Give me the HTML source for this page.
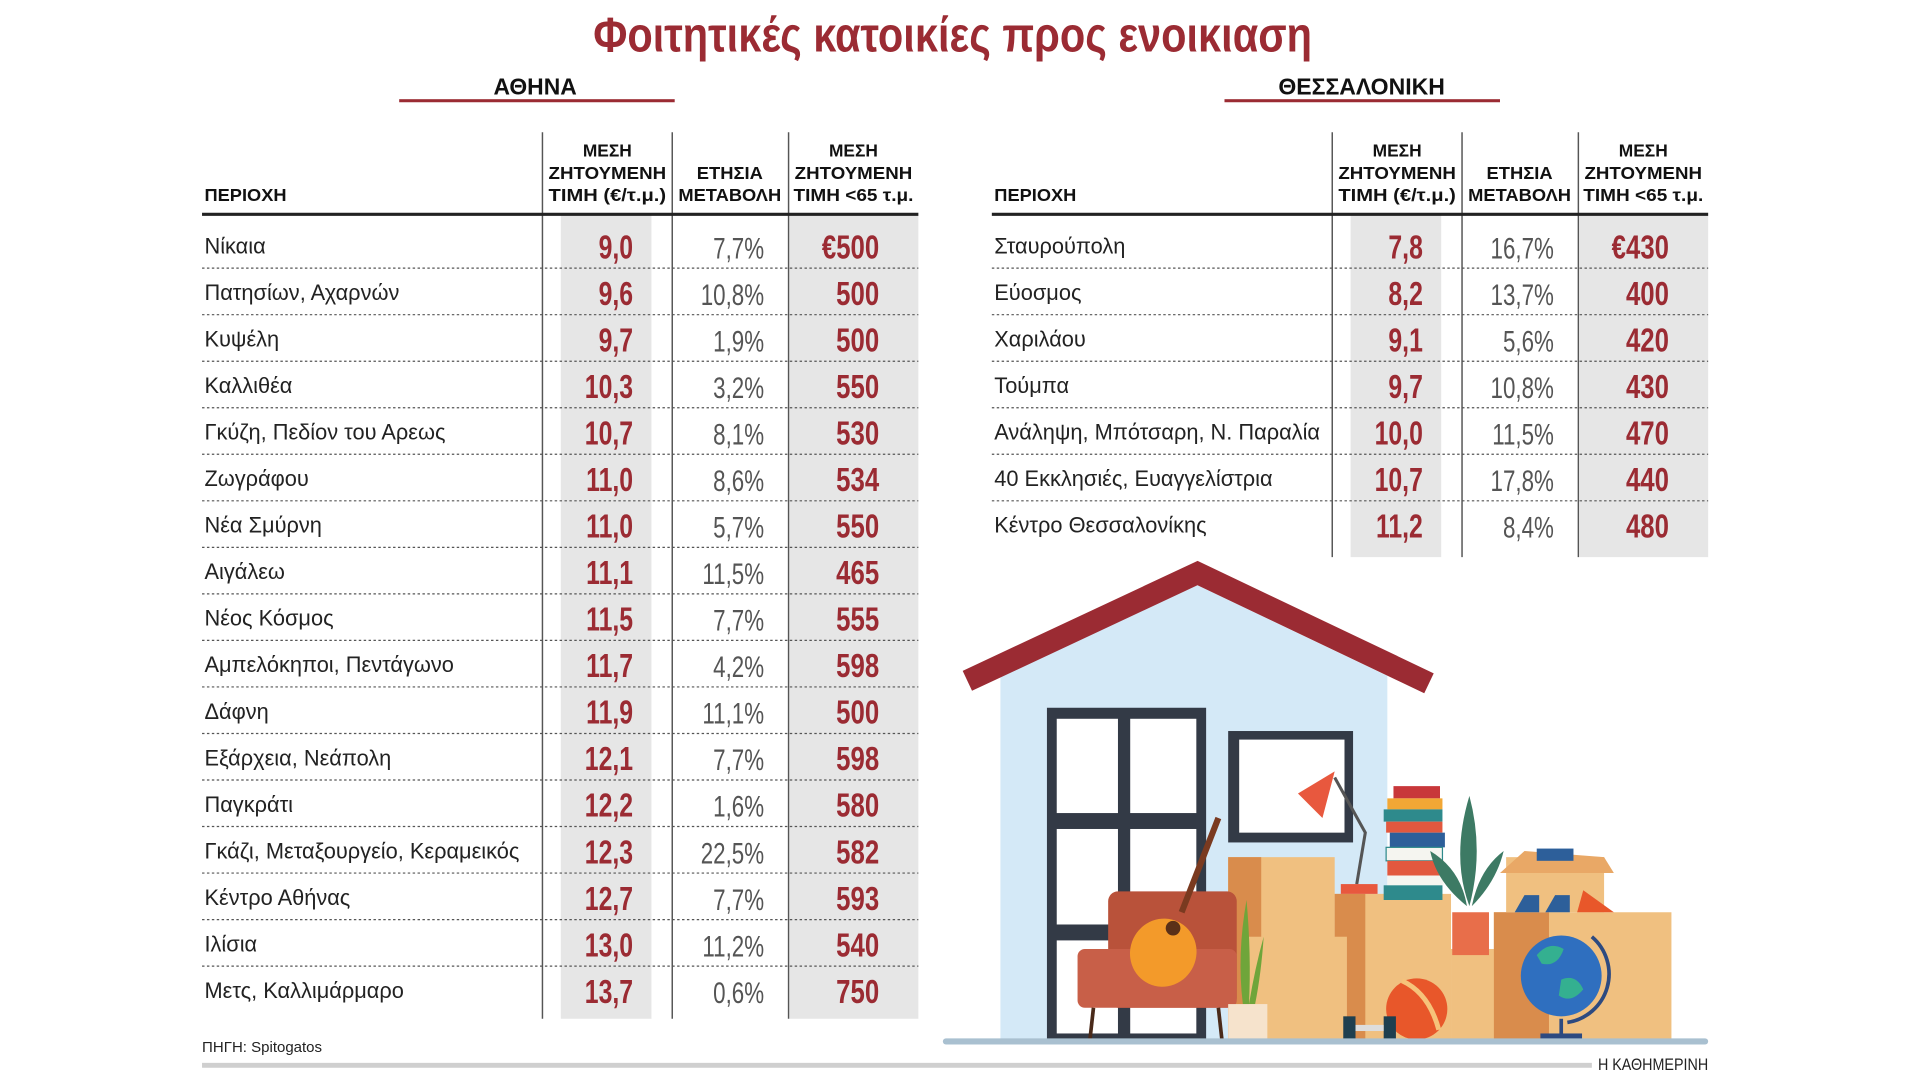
<!DOCTYPE html>
<html><head><meta charset="utf-8"><style>
html,body{margin:0;padding:0;background:#fff;}
svg{display:block;}
text{font-family:"Liberation Sans","DejaVu Sans",sans-serif;}
.nm{font-size:17.8px;fill:#222;}
.rd{font-size:27px;font-weight:bold;fill:#9b2b33;}
.pc{font-size:24px;fill:#555;}
.hd{font-size:14.5px;font-weight:bold;fill:#111;}
</style></head><body>
<svg width="1920" height="1080" viewBox="0 0 1568 882" preserveAspectRatio="none" xmlns="http://www.w3.org/2000/svg">
<text x="778" y="42" text-anchor="middle" font-size="40" font-weight="bold" fill="#9b2b33" textLength="587" lengthAdjust="spacingAndGlyphs">Φοιτητικές κατοικίες προς ενοικιαση</text>
<text x="437" y="77" text-anchor="middle" font-size="19" font-weight="bold" fill="#111" textLength="68" lengthAdjust="spacingAndGlyphs">ΑΘΗΝΑ</text>
<rect x="326" y="81" width="225" height="2.5" fill="#9b2b33"/>
<text x="1112" y="77" text-anchor="middle" font-size="19" font-weight="bold" fill="#111" textLength="136" lengthAdjust="spacingAndGlyphs">ΘΕΣΣΑΛΟΝΙΚΗ</text>
<rect x="1000" y="81" width="225" height="2.5" fill="#9b2b33"/>

<!-- LEFT TABLE -->
<rect x="458" y="176" width="74" height="656" fill="#e6e6e6"/>
<rect x="645" y="176" width="105" height="656" fill="#e6e6e6"/>
<g stroke="#555" stroke-width="1.2"><line x1="443" y1="108" x2="443" y2="832"/><line x1="549" y1="108" x2="549" y2="832"/><line x1="644" y1="108" x2="644" y2="832"/></g>
<line x1="165" y1="175" x2="750" y2="175" stroke="#222" stroke-width="2.5"/>
<g stroke="#555" stroke-width="1" stroke-dasharray="2,2">
<line x1="165" y1="219" x2="750" y2="219"/><line x1="165" y1="257" x2="750" y2="257"/><line x1="165" y1="295" x2="750" y2="295"/><line x1="165" y1="333" x2="750" y2="333"/><line x1="165" y1="371" x2="750" y2="371"/><line x1="165" y1="409" x2="750" y2="409"/><line x1="165" y1="447" x2="750" y2="447"/><line x1="165" y1="485" x2="750" y2="485"/><line x1="165" y1="523" x2="750" y2="523"/><line x1="165" y1="561" x2="750" y2="561"/><line x1="165" y1="599" x2="750" y2="599"/><line x1="165" y1="637" x2="750" y2="637"/><line x1="165" y1="675" x2="750" y2="675"/><line x1="165" y1="713" x2="750" y2="713"/><line x1="165" y1="751" x2="750" y2="751"/><line x1="165" y1="789" x2="750" y2="789"/>
</g>
<g text-anchor="middle">
<text class="hd" x="167" y="164" text-anchor="start" textLength="67" lengthAdjust="spacingAndGlyphs">ΠΕΡΙΟΧΗ</text>
<text class="hd" x="496" y="128" textLength="40" lengthAdjust="spacingAndGlyphs">ΜΕΣΗ</text>
<text class="hd" x="496" y="146" textLength="96" lengthAdjust="spacingAndGlyphs">ΖΗΤΟΥΜΕΝΗ</text>
<text class="hd" x="496" y="164" textLength="96" lengthAdjust="spacingAndGlyphs">ΤΙΜΗ (€/τ.μ.)</text>
<text class="hd" x="596" y="146" textLength="54" lengthAdjust="spacingAndGlyphs">ΕΤΗΣΙΑ</text>
<text class="hd" x="596" y="164" textLength="84" lengthAdjust="spacingAndGlyphs">ΜΕΤΑΒΟΛΗ</text>
<text class="hd" x="697" y="128" textLength="40" lengthAdjust="spacingAndGlyphs">ΜΕΣΗ</text>
<text class="hd" x="697" y="146" textLength="96" lengthAdjust="spacingAndGlyphs">ΖΗΤΟΥΜΕΝΗ</text>
<text class="hd" x="697" y="164" textLength="98" lengthAdjust="spacingAndGlyphs">ΤΙΜΗ &lt;65 τ.μ.</text>
</g>

<g>
<text class="nm" x="167" y="207">Νίκαια</text>
<text class="nm" x="167" y="245">Πατησίων, Αχαρνών</text>
<text class="nm" x="167" y="283">Κυψέλη</text>
<text class="nm" x="167" y="321">Καλλιθέα</text>
<text class="nm" x="167" y="359">Γκύζη, Πεδίον του Αρεως</text>
<text class="nm" x="167" y="397">Ζωγράφου</text>
<text class="nm" x="167" y="435">Νέα Σμύρνη</text>
<text class="nm" x="167" y="473">Αιγάλεω</text>
<text class="nm" x="167" y="511">Νέος Κόσμος</text>
<text class="nm" x="167" y="549">Αμπελόκηποι, Πεντάγωνο</text>
<text class="nm" x="167" y="587">Δάφνη</text>
<text class="nm" x="167" y="625">Εξάρχεια, Νεάπολη</text>
<text class="nm" x="167" y="663">Παγκράτι</text>
<text class="nm" x="167" y="701">Γκάζι, Μεταξουργείο, Κεραμεικός</text>
<text class="nm" x="167" y="739">Κέντρο Αθήνας</text>
<text class="nm" x="167" y="777">Ιλίσια</text>
<text class="nm" x="167" y="815">Μετς, Καλλιμάρμαρο</text>
</g>
<g text-anchor="end">
<text class="rd" transform="translate(517,211) scale(0.75,1)">9,0</text>
<text class="rd" transform="translate(517,249) scale(0.75,1)">9,6</text>
<text class="rd" transform="translate(517,287) scale(0.75,1)">9,7</text>
<text class="rd" transform="translate(517,325) scale(0.75,1)">10,3</text>
<text class="rd" transform="translate(517,363) scale(0.75,1)">10,7</text>
<text class="rd" transform="translate(517,401) scale(0.75,1)">11,0</text>
<text class="rd" transform="translate(517,439) scale(0.75,1)">11,0</text>
<text class="rd" transform="translate(517,477) scale(0.75,1)">11,1</text>
<text class="rd" transform="translate(517,515) scale(0.75,1)">11,5</text>
<text class="rd" transform="translate(517,553) scale(0.75,1)">11,7</text>
<text class="rd" transform="translate(517,591) scale(0.75,1)">11,9</text>
<text class="rd" transform="translate(517,629) scale(0.75,1)">12,1</text>
<text class="rd" transform="translate(517,667) scale(0.75,1)">12,2</text>
<text class="rd" transform="translate(517,705) scale(0.75,1)">12,3</text>
<text class="rd" transform="translate(517,743) scale(0.75,1)">12,7</text>
<text class="rd" transform="translate(517,781) scale(0.75,1)">13,0</text>
<text class="rd" transform="translate(517,819) scale(0.75,1)">13,7</text>

<text class="pc" transform="translate(624,211) scale(0.76,1)">7,7%</text>
<text class="pc" transform="translate(624,249) scale(0.76,1)">10,8%</text>
<text class="pc" transform="translate(624,287) scale(0.76,1)">1,9%</text>
<text class="pc" transform="translate(624,325) scale(0.76,1)">3,2%</text>
<text class="pc" transform="translate(624,363) scale(0.76,1)">8,1%</text>
<text class="pc" transform="translate(624,401) scale(0.76,1)">8,6%</text>
<text class="pc" transform="translate(624,439) scale(0.76,1)">5,7%</text>
<text class="pc" transform="translate(624,477) scale(0.76,1)">11,5%</text>
<text class="pc" transform="translate(624,515) scale(0.76,1)">7,7%</text>
<text class="pc" transform="translate(624,553) scale(0.76,1)">4,2%</text>
<text class="pc" transform="translate(624,591) scale(0.76,1)">11,1%</text>
<text class="pc" transform="translate(624,629) scale(0.76,1)">7,7%</text>
<text class="pc" transform="translate(624,667) scale(0.76,1)">1,6%</text>
<text class="pc" transform="translate(624,705) scale(0.76,1)">22,5%</text>
<text class="pc" transform="translate(624,743) scale(0.76,1)">7,7%</text>
<text class="pc" transform="translate(624,781) scale(0.76,1)">11,2%</text>
<text class="pc" transform="translate(624,819) scale(0.76,1)">0,6%</text>

<text class="rd" transform="translate(718,211) scale(0.78,1)">€500</text>
<text class="rd" transform="translate(718,249) scale(0.78,1)">500</text>
<text class="rd" transform="translate(718,287) scale(0.78,1)">500</text>
<text class="rd" transform="translate(718,325) scale(0.78,1)">550</text>
<text class="rd" transform="translate(718,363) scale(0.78,1)">530</text>
<text class="rd" transform="translate(718,401) scale(0.78,1)">534</text>
<text class="rd" transform="translate(718,439) scale(0.78,1)">550</text>
<text class="rd" transform="translate(718,477) scale(0.78,1)">465</text>
<text class="rd" transform="translate(718,515) scale(0.78,1)">555</text>
<text class="rd" transform="translate(718,553) scale(0.78,1)">598</text>
<text class="rd" transform="translate(718,591) scale(0.78,1)">500</text>
<text class="rd" transform="translate(718,629) scale(0.78,1)">598</text>
<text class="rd" transform="translate(718,667) scale(0.78,1)">580</text>
<text class="rd" transform="translate(718,705) scale(0.78,1)">582</text>
<text class="rd" transform="translate(718,743) scale(0.78,1)">593</text>
<text class="rd" transform="translate(718,781) scale(0.78,1)">540</text>
<text class="rd" transform="translate(718,819) scale(0.78,1)">750</text>
</g>

<!-- RIGHT TABLE -->
<rect x="1103" y="176" width="74" height="279" fill="#e6e6e6"/>
<rect x="1290" y="176" width="105" height="279" fill="#e6e6e6"/>
<g stroke="#555" stroke-width="1.2"><line x1="1088" y1="108" x2="1088" y2="455"/><line x1="1194" y1="108" x2="1194" y2="455"/><line x1="1289" y1="108" x2="1289" y2="455"/></g>
<line x1="810" y1="175" x2="1395" y2="175" stroke="#222" stroke-width="2.5"/>
<g stroke="#555" stroke-width="1" stroke-dasharray="2,2">
<line x1="810" y1="219" x2="1395" y2="219"/><line x1="810" y1="257" x2="1395" y2="257"/><line x1="810" y1="295" x2="1395" y2="295"/><line x1="810" y1="333" x2="1395" y2="333"/><line x1="810" y1="371" x2="1395" y2="371"/><line x1="810" y1="409" x2="1395" y2="409"/>
</g>
<g text-anchor="middle">
<text class="hd" x="812" y="164" text-anchor="start" textLength="67" lengthAdjust="spacingAndGlyphs">ΠΕΡΙΟΧΗ</text>
<text class="hd" x="1141" y="128" textLength="40" lengthAdjust="spacingAndGlyphs">ΜΕΣΗ</text>
<text class="hd" x="1141" y="146" textLength="96" lengthAdjust="spacingAndGlyphs">ΖΗΤΟΥΜΕΝΗ</text>
<text class="hd" x="1141" y="164" textLength="96" lengthAdjust="spacingAndGlyphs">ΤΙΜΗ (€/τ.μ.)</text>
<text class="hd" x="1241" y="146" textLength="54" lengthAdjust="spacingAndGlyphs">ΕΤΗΣΙΑ</text>
<text class="hd" x="1241" y="164" textLength="84" lengthAdjust="spacingAndGlyphs">ΜΕΤΑΒΟΛΗ</text>
<text class="hd" x="1342" y="128" textLength="40" lengthAdjust="spacingAndGlyphs">ΜΕΣΗ</text>
<text class="hd" x="1342" y="146" textLength="96" lengthAdjust="spacingAndGlyphs">ΖΗΤΟΥΜΕΝΗ</text>
<text class="hd" x="1342" y="164" textLength="98" lengthAdjust="spacingAndGlyphs">ΤΙΜΗ &lt;65 τ.μ.</text>
</g>
<text class="nm" x="812" y="207">Σταυρούπολη</text>
<text class="nm" x="812" y="245">Εύοσμος</text>
<text class="nm" x="812" y="283">Χαριλάου</text>
<text class="nm" x="812" y="321">Τούμπα</text>
<text class="nm" x="812" y="359">Ανάληψη, Μπότσαρη, Ν. Παραλία</text>
<text class="nm" x="812" y="397">40 Εκκλησιές, Ευαγγελίστρια</text>
<text class="nm" x="812" y="435">Κέντρο Θεσσαλονίκης</text>
<g text-anchor="end">
<text class="rd" transform="translate(1162,211) scale(0.75,1)">7,8</text>
<text class="rd" transform="translate(1162,249) scale(0.75,1)">8,2</text>
<text class="rd" transform="translate(1162,287) scale(0.75,1)">9,1</text>
<text class="rd" transform="translate(1162,325) scale(0.75,1)">9,7</text>
<text class="rd" transform="translate(1162,363) scale(0.75,1)">10,0</text>
<text class="rd" transform="translate(1162,401) scale(0.75,1)">10,7</text>
<text class="rd" transform="translate(1162,439) scale(0.75,1)">11,2</text>
<text class="pc" transform="translate(1269,211) scale(0.76,1)">16,7%</text>
<text class="pc" transform="translate(1269,249) scale(0.76,1)">13,7%</text>
<text class="pc" transform="translate(1269,287) scale(0.76,1)">5,6%</text>
<text class="pc" transform="translate(1269,325) scale(0.76,1)">10,8%</text>
<text class="pc" transform="translate(1269,363) scale(0.76,1)">11,5%</text>
<text class="pc" transform="translate(1269,401) scale(0.76,1)">17,8%</text>
<text class="pc" transform="translate(1269,439) scale(0.76,1)">8,4%</text>
<text class="rd" transform="translate(1363,211) scale(0.78,1)">€430</text>
<text class="rd" transform="translate(1363,249) scale(0.78,1)">400</text>
<text class="rd" transform="translate(1363,287) scale(0.78,1)">420</text>
<text class="rd" transform="translate(1363,325) scale(0.78,1)">430</text>
<text class="rd" transform="translate(1363,363) scale(0.78,1)">470</text>
<text class="rd" transform="translate(1363,401) scale(0.78,1)">440</text>
<text class="rd" transform="translate(1363,439) scale(0.78,1)">480</text>
</g>

<!-- ILLUSTRATION -->
<polygon points="817,540 978,478 1133,552 1133,850 817,850" fill="#d4e9f7"/>
<polyline points="790,556 978,468 1167,558" fill="none" stroke="#9b2b33" stroke-width="18"/>
<rect x="855" y="578" width="130" height="272" fill="#333a46"/>
<g fill="#fff">
<rect x="863" y="587" width="50" height="77"/><rect x="923" y="587" width="54" height="77"/>
<rect x="863" y="677" width="50" height="78"/><rect x="923" y="677" width="54" height="78"/>
<rect x="863" y="768" width="50" height="76"/><rect x="923" y="768" width="54" height="76"/>
</g>
<rect x="1003" y="597" width="102" height="91" fill="#333a46"/>
<rect x="1012" y="604" width="86" height="76" fill="#fff"/>
<rect x="1003" y="700" width="87" height="150" fill="#f0c080"/>
<rect x="1003" y="700" width="27" height="150" fill="#d98c4c"/>
<rect x="1090" y="730" width="95" height="120" fill="#f0c080"/>
<rect x="1090" y="730" width="25" height="120" fill="#d98c4c"/>
<rect x="1020" y="765" width="80" height="85" fill="#f0c080"/>
<rect x="1185" y="775" width="55" height="75" fill="#f0c080"/>
<rect x="1220" y="745" width="145" height="105" fill="#f0c080"/>
<rect x="1220" y="745" width="45" height="105" fill="#d98c4c"/>
<rect x="1230" y="700" width="80" height="45" fill="#f0c080"/>
<polygon points="1225,713 1245,695 1310,700 1318,713" fill="#e9a866"/>
<rect x="1255" y="693" width="30" height="10" fill="#2d5f9a"/>
<path d="M1237 745 l8 -14 h12 v14z M1262 745 l8 -14 h12 v14z" fill="#2d5f9a"/>
<path d="M1288 745 l5 -18 l25 18z" fill="#e8572a"/>
<rect x="905" y="728" width="105" height="95" rx="8" fill="#b9523a"/>
<rect x="880" y="775" width="130" height="48" rx="6" fill="#c85f48"/>
<g stroke="#4a2a1a" stroke-width="3"><line x1="893" y1="823" x2="890" y2="850"/><line x1="995" y1="823" x2="998" y2="850"/></g>
<line x1="965" y1="745" x2="995" y2="668" stroke="#7a3a20" stroke-width="5"/>
<ellipse cx="950" cy="778" rx="27" ry="28" fill="#f39a2a" transform="rotate(25 950 778)"/>
<circle cx="958" cy="758" r="6" fill="#5a3018"/>
<path d="M1015 820 q-5 -40 3 -85 q4 45 2 85z M1020 820 q5 -30 12 -55 q-2 30 -7 55z" fill="#6fa53a"/>
<rect x="1003" y="820" width="32" height="30" fill="#f6e3cc"/>
<rect x="1138" y="642" width="38" height="10" fill="#c8373a"/>
<rect x="1133" y="652" width="45" height="9" fill="#f2a735"/>
<rect x="1130" y="661" width="48" height="10" fill="#2e8a8c"/>
<rect x="1132" y="671" width="46" height="9" fill="#e2583e"/>
<rect x="1135" y="680" width="45" height="12" fill="#2d5f9a"/>
<rect x="1132" y="692" width="46" height="11" fill="#f5f5f0" stroke="#2e8a8c"/>
<rect x="1133" y="703" width="46" height="12" fill="#e2583e"/>
<rect x="1133" y="715" width="46" height="8" fill="#f5f5f0"/>
<rect x="1130" y="723" width="48" height="12" fill="#2e8a8c"/>
<polyline points="1090,635 1115,680 1108,722" fill="none" stroke="#555" stroke-width="2.5"/>
<polygon points="1060,648 1090,630 1080,668" fill="#e8583e"/>
<rect x="1095" y="722" width="30" height="8" fill="#e8583e"/>
<path d="M1200 740 q-15 -40 0 -90 q12 45 0 90z M1198 740 q-25 -20 -30 -45 q25 15 30 45z M1202 740 q20 -20 26 -45 q-20 15 -26 45z" fill="#3d7a64"/>
<rect x="1186" y="745" width="30" height="35" fill="#e86e4a"/>
<circle cx="1275" cy="797" r="33" fill="#2f6fbf"/>
<path d="M1255 780 q10 -12 22 -5 q-5 15 -18 12z M1275 800 q12 -5 18 8 q-10 12 -20 5z" fill="#34b090"/>
<path d="M1300 765 a40 40 0 0 1 -20 70" fill="none" stroke="#2d4a80" stroke-width="3"/>
<line x1="1275" y1="832" x2="1275" y2="845" stroke="#2d4a80" stroke-width="3"/>
<rect x="1258" y="844" width="34" height="5" fill="#2d4a80"/>
<circle cx="1157" cy="824" r="25" fill="#e8572a"/>
<path d="M1145 801 q22 10 30 40" stroke="#f6c37a" stroke-width="4" fill="none"/>
<rect x="1097" y="830" width="10" height="20" fill="#1f3f4f"/><rect x="1130" y="830" width="10" height="20" fill="#1f3f4f"/><rect x="1107" y="837" width="23" height="5" fill="#ddd"/>
<rect x="770" y="848" width="625" height="5" rx="2.5" fill="#a9c0d0"/>

<text x="165" y="859" font-size="12" fill="#222" textLength="98" lengthAdjust="spacingAndGlyphs">ΠΗΓΗ: Spitogatos</text>
<rect x="165" y="868" width="1135" height="4" fill="#cfcfcf"/>
<text x="1395" y="874" text-anchor="end" font-size="13.5" fill="#222" textLength="90" lengthAdjust="spacingAndGlyphs">Η ΚΑΘΗΜΕΡΙΝΗ</text>
</svg>
</body></html>
